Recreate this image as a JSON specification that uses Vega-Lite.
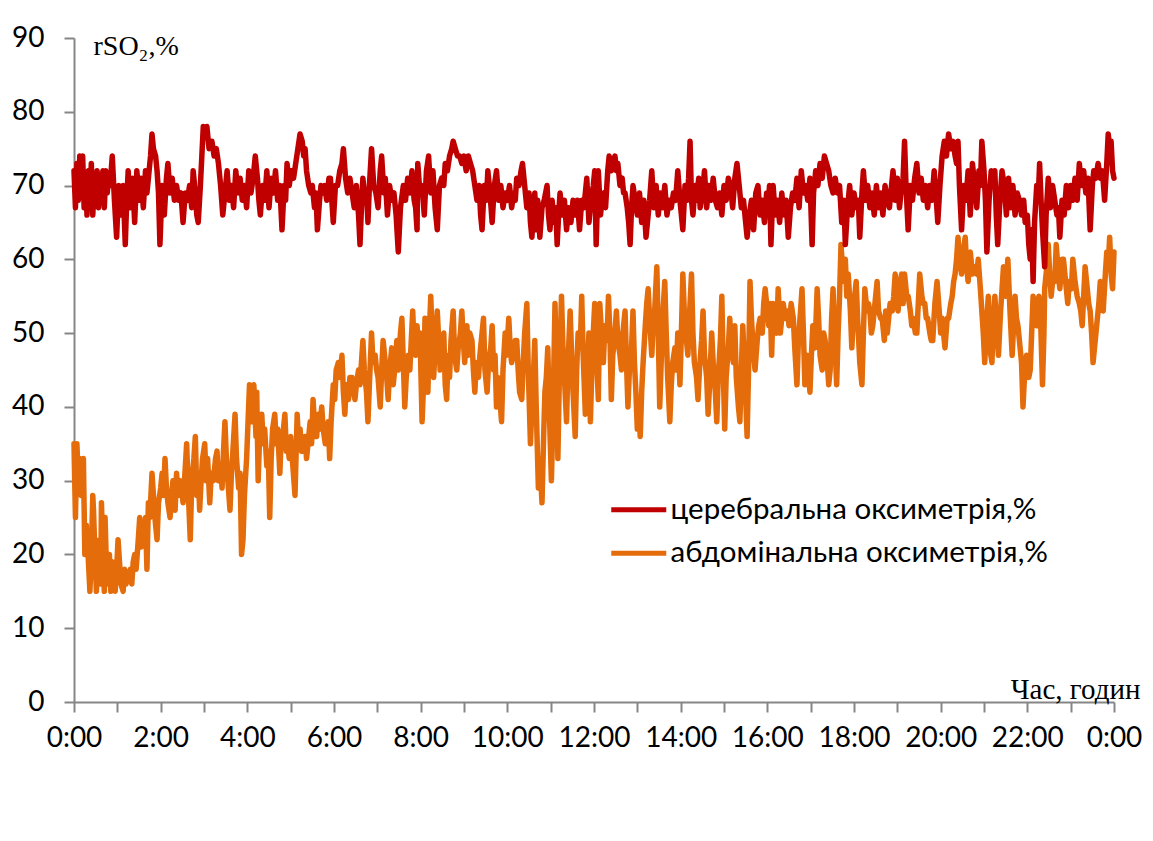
{
  "$schema": "https://vega.github.io/schema/vega-lite/v6.json",
  "width": 1040,
  "height": 664,
  "autosize": "none",
  "padding": {"left": 74, "top": 38, "right": 39, "bottom": 139},
  "background": "white",
  "config": {"view": {"stroke": null}, "font": "Lato"},
  "datasets": {
    "cer": [
{"t":0,"v":72},{"t":2,"v":67},{"t":4,"v":73},{"t":6,"v":68},{"t":8,"v":74},{"t":10,"v":69},{"t":12,"v":74},{"t":14,"v":67},{"t":16,"v":71},{"t":18,"v":66},{"t":20,"v":72},{"t":22,"v":68},{"t":24,"v":73},{"t":26,"v":66},{"t":28,"v":70},{"t":30,"v":68},{"t":32,"v":72},{"t":34,"v":67},{"t":36,"v":71},{"t":38,"v":69},{"t":40,"v":72},{"t":42,"v":67},{"t":44,"v":72},{"t":46,"v":69},{"t":48,"v":71},{"t":50,"v":70},{"t":53,"v":74},{"t":56,"v":68},{"t":59,"v":63},{"t":62,"v":70},{"t":65,"v":66},{"t":68,"v":70},{"t":71,"v":62},{"t":73,"v":68},{"t":75,"v":72},{"t":78,"v":67},{"t":81,"v":71},{"t":84,"v":65},{"t":87,"v":72},{"t":90,"v":68},{"t":93,"v":71},{"t":96,"v":67},{"t":99,"v":72},{"t":101,"v":69},{"t":104,"v":72},{"t":106,"v":74},{"t":108,"v":77},{"t":110,"v":75},{"t":113,"v":74},{"t":115,"v":72},{"t":117,"v":69},{"t":119,"v":62},{"t":122,"v":70},{"t":125,"v":66},{"t":128,"v":71},{"t":130,"v":73},{"t":133,"v":69},{"t":136,"v":71},{"t":139,"v":68},{"t":142,"v":70},{"t":145,"v":68},{"t":148,"v":69},{"t":151,"v":65},{"t":154,"v":69},{"t":157,"v":68},{"t":160,"v":70},{"t":163,"v":67},{"t":165,"v":72},{"t":168,"v":69},{"t":170,"v":66},{"t":172,"v":65},{"t":175,"v":70},{"t":177,"v":74},{"t":179,"v":78},{"t":182,"v":77},{"t":184,"v":78},{"t":187,"v":75},{"t":189,"v":76},{"t":191,"v":76},{"t":194,"v":74},{"t":197,"v":75},{"t":200,"v":73},{"t":203,"v":70},{"t":206,"v":66},{"t":209,"v":69},{"t":212,"v":72},{"t":215,"v":68},{"t":218,"v":70},{"t":221,"v":67},{"t":224,"v":72},{"t":227,"v":69},{"t":230,"v":71},{"t":233,"v":68},{"t":236,"v":70},{"t":239,"v":67},{"t":242,"v":72},{"t":245,"v":69},{"t":248,"v":71},{"t":251,"v":74},{"t":254,"v":71},{"t":256,"v":68},{"t":258,"v":66},{"t":261,"v":70},{"t":264,"v":68},{"t":267,"v":72},{"t":270,"v":67},{"t":273,"v":71},{"t":276,"v":69},{"t":279,"v":72},{"t":282,"v":68},{"t":285,"v":70},{"t":288,"v":64},{"t":291,"v":70},{"t":293,"v":68},{"t":295,"v":73},{"t":298,"v":70},{"t":301,"v":72},{"t":304,"v":71},{"t":307,"v":73},{"t":310,"v":75},{"t":313,"v":77},{"t":316,"v":76},{"t":318,"v":74},{"t":320,"v":75},{"t":322,"v":72},{"t":325,"v":70},{"t":328,"v":69},{"t":330,"v":70},{"t":333,"v":67},{"t":335,"v":69},{"t":337,"v":64},{"t":340,"v":68},{"t":342,"v":70},{"t":344,"v":69},{"t":347,"v":70},{"t":350,"v":68},{"t":353,"v":71},{"t":355,"v":71},{"t":357,"v":68},{"t":359,"v":65},{"t":362,"v":70},{"t":365,"v":70},{"t":368,"v":72},{"t":371,"v":73},{"t":373,"v":75},{"t":376,"v":71},{"t":379,"v":69},{"t":382,"v":71},{"t":385,"v":69},{"t":388,"v":67},{"t":391,"v":70},{"t":394,"v":66},{"t":396,"v":62},{"t":398,"v":67},{"t":400,"v":71},{"t":403,"v":68},{"t":405,"v":69},{"t":407,"v":65},{"t":409,"v":70},{"t":412,"v":75},{"t":415,"v":70},{"t":418,"v":69},{"t":421,"v":67},{"t":424,"v":72},{"t":426,"v":74},{"t":429,"v":69},{"t":431,"v":71},{"t":434,"v":66},{"t":437,"v":70},{"t":440,"v":68},{"t":443,"v":69},{"t":446,"v":66},{"t":449,"v":61},{"t":452,"v":67},{"t":456,"v":70},{"t":459,"v":68},{"t":462,"v":71},{"t":465,"v":69},{"t":468,"v":72},{"t":471,"v":68},{"t":473,"v":67},{"t":475,"v":64},{"t":476,"v":73},{"t":479,"v":69},{"t":482,"v":70},{"t":485,"v":66},{"t":488,"v":72},{"t":491,"v":74},{"t":494,"v":69},{"t":497,"v":72},{"t":500,"v":67},{"t":503,"v":64},{"t":506,"v":70},{"t":509,"v":71},{"t":512,"v":70},{"t":514,"v":73},{"t":517,"v":72},{"t":520,"v":74},{"t":523,"v":75},{"t":525,"v":76},{"t":528,"v":75},{"t":531,"v":74},{"t":534,"v":74},{"t":537,"v":73},{"t":540,"v":74},{"t":543,"v":72},{"t":546,"v":74},{"t":549,"v":73},{"t":552,"v":72},{"t":555,"v":70},{"t":558,"v":68},{"t":561,"v":70},{"t":563,"v":66},{"t":565,"v":64},{"t":568,"v":70},{"t":571,"v":68},{"t":573,"v":72},{"t":576,"v":69},{"t":579,"v":65},{"t":582,"v":70},{"t":585,"v":72},{"t":588,"v":68},{"t":591,"v":70},{"t":594,"v":67},{"t":597,"v":69},{"t":600,"v":68},{"t":603,"v":70},{"t":606,"v":67},{"t":609,"v":69},{"t":611,"v":68},{"t":613,"v":71},{"t":616,"v":70},{"t":619,"v":72},{"t":621,"v":73},{"t":624,"v":70},{"t":627,"v":67},{"t":630,"v":69},{"t":632,"v":65},{"t":634,"v":63},{"t":636,"v":66},{"t":638,"v":69},{"t":640,"v":64},{"t":642,"v":68},{"t":645,"v":63},{"t":648,"v":67},{"t":651,"v":68},{"t":655,"v":70},{"t":657,"v":66},{"t":659,"v":64},{"t":662,"v":68},{"t":665,"v":65},{"t":667,"v":67},{"t":669,"v":62},{"t":671,"v":66},{"t":673,"v":69},{"t":676,"v":66},{"t":679,"v":68},{"t":682,"v":64},{"t":685,"v":67},{"t":688,"v":65},{"t":691,"v":68},{"t":694,"v":66},{"t":697,"v":68},{"t":700,"v":64},{"t":703,"v":68},{"t":706,"v":67},{"t":710,"v":71},{"t":713,"v":65},{"t":716,"v":68},{"t":719,"v":70},{"t":721,"v":72},{"t":723,"v":62},{"t":726,"v":72},{"t":729,"v":66},{"t":731,"v":68},{"t":734,"v":69},{"t":736,"v":67},{"t":739,"v":72},{"t":741,"v":74},{"t":744,"v":72},{"t":746,"v":73},{"t":749,"v":74},{"t":751,"v":72},{"t":753,"v":73},{"t":756,"v":70},{"t":759,"v":71},{"t":761,"v":69},{"t":763,"v":69},{"t":766,"v":67},{"t":768,"v":65},{"t":770,"v":62},{"t":772,"v":67},{"t":774,"v":70},{"t":777,"v":68},{"t":780,"v":66},{"t":783,"v":69},{"t":786,"v":65},{"t":789,"v":68},{"t":792,"v":63},{"t":795,"v":66},{"t":797,"v":68},{"t":800,"v":72},{"t":803,"v":67},{"t":806,"v":70},{"t":809,"v":66},{"t":812,"v":69},{"t":815,"v":67},{"t":818,"v":70},{"t":821,"v":66},{"t":824,"v":68},{"t":827,"v":67},{"t":830,"v":69},{"t":833,"v":68},{"t":836,"v":72},{"t":839,"v":68},{"t":843,"v":64},{"t":846,"v":70},{"t":849,"v":68},{"t":851,"v":71},{"t":853,"v":76},{"t":855,"v":68},{"t":857,"v":66},{"t":860,"v":70},{"t":862,"v":68},{"t":865,"v":71},{"t":867,"v":67},{"t":870,"v":69},{"t":873,"v":72},{"t":876,"v":67},{"t":879,"v":70},{"t":882,"v":68},{"t":885,"v":71},{"t":888,"v":68},{"t":891,"v":67},{"t":894,"v":69},{"t":897,"v":66},{"t":900,"v":70},{"t":903,"v":68},{"t":906,"v":71},{"t":909,"v":70},{"t":912,"v":67},{"t":915,"v":71},{"t":918,"v":73},{"t":921,"v":70},{"t":924,"v":67},{"t":927,"v":68},{"t":930,"v":65},{"t":932,"v":63},{"t":935,"v":66},{"t":938,"v":68},{"t":941,"v":64},{"t":944,"v":69},{"t":947,"v":70},{"t":950,"v":66},{"t":953,"v":68},{"t":956,"v":65},{"t":959,"v":69},{"t":961,"v":67},{"t":963,"v":70},{"t":965,"v":62},{"t":968,"v":70},{"t":971,"v":66},{"t":974,"v":68},{"t":977,"v":65},{"t":980,"v":69},{"t":983,"v":66},{"t":986,"v":68},{"t":989,"v":63},{"t":992,"v":67},{"t":995,"v":69},{"t":998,"v":68},{"t":1001,"v":71},{"t":1004,"v":67},{"t":1007,"v":72},{"t":1010,"v":69},{"t":1013,"v":70},{"t":1016,"v":68},{"t":1019,"v":71},{"t":1022,"v":62},{"t":1024,"v":69},{"t":1027,"v":72},{"t":1030,"v":70},{"t":1033,"v":73},{"t":1036,"v":71},{"t":1039,"v":74},{"t":1042,"v":73},{"t":1045,"v":72},{"t":1048,"v":70},{"t":1051,"v":69},{"t":1054,"v":71},{"t":1057,"v":69},{"t":1060,"v":70},{"t":1063,"v":65},{"t":1066,"v":68},{"t":1068,"v":62},{"t":1071,"v":67},{"t":1074,"v":70},{"t":1077,"v":66},{"t":1080,"v":69},{"t":1083,"v":67},{"t":1086,"v":68},{"t":1088,"v":63},{"t":1091,"v":69},{"t":1093,"v":72},{"t":1096,"v":68},{"t":1099,"v":70},{"t":1102,"v":67},{"t":1105,"v":69},{"t":1108,"v":66},{"t":1111,"v":70},{"t":1114,"v":67},{"t":1117,"v":69},{"t":1120,"v":66},{"t":1123,"v":70},{"t":1126,"v":68},{"t":1129,"v":67},{"t":1132,"v":70},{"t":1134,"v":72},{"t":1137,"v":68},{"t":1140,"v":71},{"t":1143,"v":67},{"t":1146,"v":70},{"t":1148,"v":71},{"t":1150,"v":76},{"t":1152,"v":70},{"t":1155,"v":64},{"t":1158,"v":70},{"t":1161,"v":68},{"t":1164,"v":71},{"t":1167,"v":73},{"t":1170,"v":69},{"t":1173,"v":71},{"t":1176,"v":68},{"t":1179,"v":70},{"t":1182,"v":67},{"t":1185,"v":70},{"t":1188,"v":68},{"t":1191,"v":72},{"t":1194,"v":68},{"t":1196,"v":65},{"t":1199,"v":70},{"t":1202,"v":74},{"t":1205,"v":76},{"t":1208,"v":74},{"t":1211,"v":77},{"t":1214,"v":75},{"t":1217,"v":76},{"t":1220,"v":74},{"t":1222,"v":73},{"t":1224,"v":76},{"t":1226,"v":70},{"t":1229,"v":64},{"t":1232,"v":70},{"t":1235,"v":68},{"t":1238,"v":72},{"t":1241,"v":66},{"t":1244,"v":73},{"t":1247,"v":70},{"t":1250,"v":67},{"t":1253,"v":72},{"t":1255,"v":70},{"t":1257,"v":76},{"t":1260,"v":72},{"t":1262,"v":68},{"t":1264,"v":61},{"t":1267,"v":68},{"t":1270,"v":72},{"t":1273,"v":70},{"t":1275,"v":72},{"t":1277,"v":66},{"t":1279,"v":62},{"t":1282,"v":68},{"t":1285,"v":72},{"t":1288,"v":70},{"t":1291,"v":66},{"t":1294,"v":71},{"t":1297,"v":67},{"t":1300,"v":70},{"t":1303,"v":66},{"t":1306,"v":69},{"t":1309,"v":68},{"t":1312,"v":66},{"t":1315,"v":68},{"t":1317,"v":65},{"t":1320,"v":66},{"t":1322,"v":62},{"t":1324,"v":60},{"t":1326,"v":64},{"t":1328,"v":57},{"t":1330,"v":65},{"t":1333,"v":70},{"t":1335,"v":68},{"t":1337,"v":73},{"t":1339,"v":68},{"t":1341,"v":64},{"t":1344,"v":59},{"t":1346,"v":66},{"t":1349,"v":71},{"t":1352,"v":67},{"t":1355,"v":70},{"t":1358,"v":68},{"t":1361,"v":66},{"t":1363,"v":67},{"t":1365,"v":63},{"t":1368,"v":68},{"t":1371,"v":66},{"t":1374,"v":70},{"t":1377,"v":67},{"t":1380,"v":70},{"t":1383,"v":68},{"t":1386,"v":71},{"t":1389,"v":68},{"t":1392,"v":73},{"t":1395,"v":70},{"t":1398,"v":72},{"t":1401,"v":69},{"t":1404,"v":71},{"t":1407,"v":64},{"t":1410,"v":70},{"t":1412,"v":72},{"t":1415,"v":71},{"t":1418,"v":73},{"t":1421,"v":71},{"t":1424,"v":72},{"t":1427,"v":68},{"t":1430,"v":73},{"t":1432,"v":77},{"t":1434,"v":75},{"t":1436,"v":76},{"t":1438,"v":72},{"t":1440,"v":71}
    ],
    "abd": [
{"t":0,"v":35},{"t":2,"v":25},{"t":4,"v":35},{"t":6,"v":30},{"t":8,"v":33},{"t":10,"v":28},{"t":13,"v":33},{"t":15,"v":20},{"t":17,"v":24},{"t":19,"v":21},{"t":21,"v":17},{"t":22,"v":15},{"t":24,"v":20},{"t":26,"v":28},{"t":27,"v":26},{"t":29,"v":20},{"t":31,"v":15},{"t":33,"v":19},{"t":35,"v":22},{"t":37,"v":16},{"t":38,"v":27},{"t":40,"v":20},{"t":42,"v":15},{"t":43,"v":25},{"t":45,"v":18},{"t":47,"v":16},{"t":49,"v":20},{"t":51,"v":15},{"t":53,"v":19},{"t":55,"v":17},{"t":57,"v":15},{"t":59,"v":18},{"t":61,"v":22},{"t":63,"v":19},{"t":65,"v":16},{"t":68,"v":15},{"t":70,"v":18},{"t":72,"v":16},{"t":75,"v":17},{"t":78,"v":18},{"t":80,"v":16},{"t":82,"v":19},{"t":84,"v":20},{"t":86,"v":18},{"t":89,"v":22},{"t":91,"v":25},{"t":93,"v":21},{"t":95,"v":24},{"t":97,"v":22},{"t":99,"v":25},{"t":101,"v":18},{"t":103,"v":27},{"t":105,"v":25},{"t":108,"v":31},{"t":110,"v":28},{"t":112,"v":25},{"t":115,"v":22},{"t":117,"v":27},{"t":120,"v":29},{"t":122,"v":31},{"t":124,"v":28},{"t":126,"v":33},{"t":128,"v":29},{"t":130,"v":27},{"t":133,"v":25},{"t":135,"v":28},{"t":137,"v":30},{"t":140,"v":26},{"t":142,"v":31},{"t":144,"v":28},{"t":147,"v":30},{"t":149,"v":29},{"t":151,"v":27},{"t":153,"v":30},{"t":156,"v":35},{"t":158,"v":29},{"t":161,"v":22},{"t":163,"v":30},{"t":166,"v":33},{"t":168,"v":36},{"t":170,"v":28},{"t":172,"v":31},{"t":174,"v":26},{"t":176,"v":30},{"t":178,"v":33},{"t":181,"v":35},{"t":183,"v":30},{"t":185,"v":33},{"t":188,"v":27},{"t":190,"v":31},{"t":193,"v":30},{"t":196,"v":33},{"t":198,"v":34},{"t":200,"v":30},{"t":203,"v":32},{"t":205,"v":29},{"t":207,"v":34},{"t":209,"v":38},{"t":211,"v":33},{"t":213,"v":30},{"t":216,"v":26},{"t":218,"v":31},{"t":220,"v":34},{"t":223,"v":39},{"t":225,"v":33},{"t":228,"v":29},{"t":230,"v":31},{"t":232,"v":20},{"t":234,"v":22},{"t":236,"v":28},{"t":239,"v":33},{"t":241,"v":38},{"t":243,"v":43},{"t":246,"v":38},{"t":249,"v":43},{"t":252,"v":36},{"t":253,"v":42},{"t":255,"v":30},{"t":257,"v":36},{"t":260,"v":39},{"t":262,"v":35},{"t":264,"v":37},{"t":267,"v":32},{"t":269,"v":34},{"t":271,"v":25},{"t":273,"v":33},{"t":275,"v":37},{"t":278,"v":39},{"t":280,"v":35},{"t":282,"v":37},{"t":285,"v":31},{"t":287,"v":36},{"t":290,"v":37},{"t":292,"v":39},{"t":294,"v":34},{"t":296,"v":35},{"t":298,"v":33},{"t":300,"v":36},{"t":303,"v":32},{"t":306,"v":28},{"t":309,"v":39},{"t":311,"v":35},{"t":313,"v":37},{"t":315,"v":34},{"t":317,"v":34},{"t":320,"v":36},{"t":322,"v":33},{"t":324,"v":35},{"t":327,"v":38},{"t":329,"v":35},{"t":331,"v":41},{"t":334,"v":36},{"t":336,"v":36},{"t":338,"v":39},{"t":340,"v":37},{"t":343,"v":40},{"t":345,"v":37},{"t":348,"v":35},{"t":350,"v":36},{"t":352,"v":38},{"t":354,"v":33},{"t":356,"v":38},{"t":359,"v":43},{"t":361,"v":41},{"t":363,"v":45},{"t":366,"v":46},{"t":368,"v":44},{"t":371,"v":47},{"t":373,"v":42},{"t":375,"v":39},{"t":377,"v":43},{"t":380,"v":41},{"t":382,"v":44},{"t":385,"v":44},{"t":387,"v":42},{"t":389,"v":41},{"t":391,"v":43},{"t":394,"v":45},{"t":396,"v":43},{"t":398,"v":46},{"t":400,"v":49},{"t":402,"v":45},{"t":405,"v":42},{"t":407,"v":38},{"t":409,"v":43},{"t":412,"v":50},{"t":414,"v":46},{"t":417,"v":47},{"t":419,"v":45},{"t":421,"v":44},{"t":424,"v":40},{"t":426,"v":45},{"t":428,"v":49},{"t":431,"v":46},{"t":433,"v":44},{"t":435,"v":41},{"t":437,"v":45},{"t":440,"v":48},{"t":442,"v":43},{"t":445,"v":46},{"t":447,"v":49},{"t":449,"v":45},{"t":452,"v":50},{"t":454,"v":52},{"t":456,"v":46},{"t":458,"v":40},{"t":460,"v":44},{"t":463,"v":47},{"t":465,"v":45},{"t":467,"v":49},{"t":469,"v":53},{"t":471,"v":48},{"t":473,"v":47},{"t":475,"v":51},{"t":477,"v":48},{"t":479,"v":50},{"t":482,"v":38},{"t":484,"v":43},{"t":486,"v":52},{"t":488,"v":46},{"t":490,"v":42},{"t":492,"v":50},{"t":494,"v":55},{"t":496,"v":49},{"t":498,"v":44},{"t":500,"v":48},{"t":503,"v":53},{"t":505,"v":49},{"t":507,"v":45},{"t":509,"v":46},{"t":512,"v":50},{"t":514,"v":43},{"t":516,"v":41},{"t":518,"v":47},{"t":520,"v":44},{"t":522,"v":49},{"t":525,"v":53},{"t":527,"v":47},{"t":530,"v":45},{"t":532,"v":48},{"t":535,"v":50},{"t":537,"v":53},{"t":539,"v":49},{"t":541,"v":46},{"t":544,"v":51},{"t":546,"v":47},{"t":548,"v":50},{"t":551,"v":49},{"t":553,"v":45},{"t":555,"v":42},{"t":557,"v":46},{"t":560,"v":44},{"t":562,"v":47},{"t":565,"v":50},{"t":567,"v":52},{"t":569,"v":45},{"t":572,"v":42},{"t":574,"v":46},{"t":577,"v":48},{"t":579,"v":51},{"t":581,"v":45},{"t":583,"v":47},{"t":585,"v":40},{"t":587,"v":44},{"t":589,"v":42},{"t":592,"v":38},{"t":594,"v":45},{"t":597,"v":50},{"t":599,"v":47},{"t":602,"v":52},{"t":604,"v":48},{"t":606,"v":46},{"t":608,"v":47},{"t":611,"v":49},{"t":613,"v":49},{"t":615,"v":45},{"t":617,"v":42},{"t":620,"v":41},{"t":622,"v":46},{"t":624,"v":50},{"t":627,"v":54},{"t":629,"v":45},{"t":632,"v":35},{"t":634,"v":40},{"t":636,"v":44},{"t":638,"v":49},{"t":640,"v":40},{"t":643,"v":29},{"t":645,"v":33},{"t":648,"v":27},{"t":650,"v":35},{"t":652,"v":42},{"t":654,"v":44},{"t":656,"v":48},{"t":658,"v":40},{"t":661,"v":30},{"t":663,"v":38},{"t":666,"v":54},{"t":668,"v":45},{"t":670,"v":33},{"t":672,"v":44},{"t":675,"v":55},{"t":677,"v":48},{"t":679,"v":44},{"t":682,"v":38},{"t":684,"v":46},{"t":687,"v":53},{"t":689,"v":47},{"t":691,"v":42},{"t":694,"v":36},{"t":696,"v":45},{"t":698,"v":50},{"t":701,"v":48},{"t":703,"v":55},{"t":705,"v":47},{"t":708,"v":39},{"t":710,"v":44},{"t":713,"v":50},{"t":715,"v":38},{"t":717,"v":45},{"t":719,"v":50},{"t":721,"v":54},{"t":723,"v":48},{"t":726,"v":41},{"t":728,"v":54},{"t":731,"v":49},{"t":733,"v":46},{"t":735,"v":51},{"t":738,"v":49},{"t":740,"v":55},{"t":742,"v":50},{"t":744,"v":41},{"t":746,"v":47},{"t":749,"v":50},{"t":751,"v":53},{"t":753,"v":49},{"t":756,"v":47},{"t":758,"v":45},{"t":760,"v":50},{"t":763,"v":53},{"t":765,"v":46},{"t":767,"v":40},{"t":769,"v":45},{"t":772,"v":48},{"t":774,"v":53},{"t":776,"v":46},{"t":778,"v":42},{"t":780,"v":37},{"t":782,"v":40},{"t":784,"v":36},{"t":786,"v":42},{"t":788,"v":46},{"t":791,"v":51},{"t":793,"v":54},{"t":795,"v":56},{"t":797,"v":52},{"t":800,"v":47},{"t":802,"v":51},{"t":804,"v":53},{"t":807,"v":59},{"t":809,"v":50},{"t":811,"v":40},{"t":813,"v":46},{"t":815,"v":52},{"t":818,"v":57},{"t":820,"v":50},{"t":822,"v":44},{"t":825,"v":38},{"t":827,"v":43},{"t":829,"v":46},{"t":832,"v":48},{"t":834,"v":45},{"t":836,"v":50},{"t":839,"v":43},{"t":841,"v":50},{"t":843,"v":58},{"t":845,"v":53},{"t":848,"v":49},{"t":850,"v":47},{"t":852,"v":52},{"t":855,"v":58},{"t":857,"v":50},{"t":859,"v":46},{"t":862,"v":44},{"t":864,"v":41},{"t":866,"v":45},{"t":869,"v":49},{"t":871,"v":53},{"t":873,"v":47},{"t":876,"v":44},{"t":878,"v":39},{"t":880,"v":43},{"t":883,"v":50},{"t":885,"v":46},{"t":888,"v":42},{"t":890,"v":38},{"t":892,"v":44},{"t":895,"v":49},{"t":897,"v":55},{"t":899,"v":45},{"t":901,"v":37},{"t":903,"v":44},{"t":906,"v":48},{"t":908,"v":52},{"t":910,"v":48},{"t":913,"v":46},{"t":915,"v":51},{"t":917,"v":44},{"t":920,"v":40},{"t":922,"v":38},{"t":924,"v":45},{"t":926,"v":51},{"t":929,"v":44},{"t":932,"v":36},{"t":934,"v":45},{"t":936,"v":57},{"t":938,"v":52},{"t":941,"v":47},{"t":943,"v":45},{"t":946,"v":49},{"t":948,"v":51},{"t":950,"v":52},{"t":953,"v":50},{"t":955,"v":54},{"t":957,"v":56},{"t":960,"v":53},{"t":962,"v":51},{"t":964,"v":54},{"t":966,"v":47},{"t":968,"v":54},{"t":971,"v":51},{"t":973,"v":50},{"t":975,"v":56},{"t":978,"v":50},{"t":980,"v":52},{"t":982,"v":54},{"t":985,"v":52},{"t":988,"v":53},{"t":990,"v":51},{"t":993,"v":54},{"t":996,"v":52},{"t":998,"v":48},{"t":1001,"v":43},{"t":1003,"v":49},{"t":1006,"v":53},{"t":1008,"v":56},{"t":1010,"v":50},{"t":1012,"v":43},{"t":1015,"v":47},{"t":1017,"v":45},{"t":1019,"v":42},{"t":1021,"v":47},{"t":1023,"v":51},{"t":1026,"v":48},{"t":1029,"v":56},{"t":1031,"v":52},{"t":1033,"v":47},{"t":1036,"v":45},{"t":1038,"v":50},{"t":1040,"v":49},{"t":1043,"v":46},{"t":1045,"v":43},{"t":1047,"v":45},{"t":1049,"v":52},{"t":1051,"v":56},{"t":1053,"v":50},{"t":1056,"v":43},{"t":1058,"v":50},{"t":1060,"v":55},{"t":1062,"v":62},{"t":1064,"v":59},{"t":1066,"v":57},{"t":1068,"v":60},{"t":1070,"v":55},{"t":1072,"v":58},{"t":1075,"v":53},{"t":1077,"v":48},{"t":1079,"v":52},{"t":1081,"v":55},{"t":1083,"v":57},{"t":1085,"v":52},{"t":1088,"v":46},{"t":1091,"v":43},{"t":1093,"v":50},{"t":1095,"v":56},{"t":1098,"v":53},{"t":1100,"v":54},{"t":1102,"v":53},{"t":1104,"v":50},{"t":1106,"v":51},{"t":1109,"v":54},{"t":1112,"v":57},{"t":1114,"v":53},{"t":1117,"v":52},{"t":1119,"v":52},{"t":1122,"v":49},{"t":1124,"v":53},{"t":1126,"v":50},{"t":1128,"v":52},{"t":1130,"v":54},{"t":1133,"v":53},{"t":1135,"v":55},{"t":1137,"v":58},{"t":1139,"v":55},{"t":1141,"v":53},{"t":1144,"v":57},{"t":1146,"v":58},{"t":1148,"v":54},{"t":1150,"v":58},{"t":1153,"v":55},{"t":1155,"v":55},{"t":1158,"v":53},{"t":1160,"v":51},{"t":1162,"v":52},{"t":1165,"v":50},{"t":1167,"v":50},{"t":1169,"v":54},{"t":1171,"v":58},{"t":1174,"v":55},{"t":1176,"v":54},{"t":1178,"v":54},{"t":1180,"v":52},{"t":1182,"v":52},{"t":1185,"v":50},{"t":1187,"v":49},{"t":1189,"v":49},{"t":1192,"v":54},{"t":1195,"v":57},{"t":1198,"v":53},{"t":1200,"v":50},{"t":1202,"v":52},{"t":1204,"v":50},{"t":1206,"v":48},{"t":1209,"v":52},{"t":1211,"v":52},{"t":1214,"v":54},{"t":1216,"v":55},{"t":1218,"v":57},{"t":1220,"v":58},{"t":1222,"v":60},{"t":1224,"v":63},{"t":1226,"v":60},{"t":1229,"v":58},{"t":1231,"v":61},{"t":1234,"v":63},{"t":1236,"v":59},{"t":1238,"v":57},{"t":1241,"v":61},{"t":1244,"v":58},{"t":1247,"v":59},{"t":1250,"v":58},{"t":1252,"v":60},{"t":1255,"v":56},{"t":1257,"v":53},{"t":1259,"v":50},{"t":1261,"v":46},{"t":1264,"v":52},{"t":1266,"v":55},{"t":1268,"v":48},{"t":1271,"v":46},{"t":1273,"v":52},{"t":1275,"v":55},{"t":1278,"v":50},{"t":1280,"v":47},{"t":1283,"v":53},{"t":1285,"v":56},{"t":1287,"v":59},{"t":1290,"v":55},{"t":1293,"v":60},{"t":1296,"v":53},{"t":1299,"v":47},{"t":1301,"v":51},{"t":1303,"v":55},{"t":1305,"v":52},{"t":1307,"v":51},{"t":1310,"v":48},{"t":1312,"v":46},{"t":1314,"v":40},{"t":1316,"v":44},{"t":1319,"v":47},{"t":1322,"v":44},{"t":1324,"v":45},{"t":1326,"v":50},{"t":1328,"v":55},{"t":1331,"v":52},{"t":1333,"v":51},{"t":1336,"v":55},{"t":1338,"v":53},{"t":1341,"v":43},{"t":1343,"v":50},{"t":1344,"v":56},{"t":1347,"v":59},{"t":1349,"v":62},{"t":1351,"v":58},{"t":1353,"v":55},{"t":1356,"v":58},{"t":1358,"v":57},{"t":1360,"v":62},{"t":1363,"v":58},{"t":1365,"v":56},{"t":1368,"v":60},{"t":1370,"v":60},{"t":1373,"v":57},{"t":1376,"v":54},{"t":1378,"v":57},{"t":1381,"v":56},{"t":1383,"v":60},{"t":1386,"v":57},{"t":1389,"v":55},{"t":1392,"v":54},{"t":1394,"v":53},{"t":1396,"v":51},{"t":1398,"v":55},{"t":1400,"v":59},{"t":1403,"v":56},{"t":1405,"v":54},{"t":1407,"v":53},{"t":1409,"v":50},{"t":1411,"v":46},{"t":1414,"v":49},{"t":1417,"v":52},{"t":1419,"v":54},{"t":1421,"v":57},{"t":1423,"v":55},{"t":1425,"v":53},{"t":1428,"v":58},{"t":1430,"v":61},{"t":1432,"v":59},{"t":1434,"v":63},{"t":1436,"v":58},{"t":1438,"v":56},{"t":1440,"v":61}
    ]
  },
  "encoding": {
    "x": {
      "field": "t", "type": "quantitative",
      "scale": {"domain": [0, 1440], "nice": false, "zero": false},
      "axis": {
        "values": [0,60,120,180,240,300,360,420,480,540,600,660,720,780,840,900,960,1020,1080,1140,1200,1260,1320,1380,1440],
        "labelExpr": "datum.value % 120 == 0 ? (floor(datum.value / 60) % 24) + ':00' : ''",
        "grid": false, "labelOverlap": false, "labelFlush": false, "labelBound": false,
        "domainColor": "#868686", "domainWidth": 2, "tickColor": "#868686", "tickWidth": 2, "tickSize": 10,
        "labelFont": "Lato, Noto Sans", "labelFontSize": 28, "labelColor": "#000000", "labelPadding": 12,
        "title": "Час, годин", "titleFont": "Liberation Serif", "titleFontSize": 29, "titleFontWeight": "normal", "titleColor": "#000000",
        "titleX": 1066, "titleY": -4, "titleAlign": "right", "titleBaseline": "alphabetic", "titleAnchor": "end"
      }
    },
    "y": {
      "field": "v", "type": "quantitative",
      "scale": {"domain": [0, 90], "nice": false},
      "axis": {
        "values": [0,10,20,30,40,50,60,70,80,90],
        "grid": false,
        "domainColor": "#868686", "domainWidth": 2, "tickColor": "#868686", "tickWidth": 2, "tickSize": 10,
        "labelFont": "Lato, Noto Sans", "labelFontSize": 28, "labelColor": "#000000", "labelPadding": 20,
        "title": "rSO₂,%", "titleFont": "Liberation Serif", "titleFontSize": 28, "titleFontWeight": "normal", "titleColor": "#000000",
        "titleAngle": 0, "titleX": 19, "titleY": 8, "titleAlign": "left", "titleBaseline": "middle"
      }
    }
  },
  "layer": [
    {
      "data": {"name": "abd"},
      "mark": {"type": "line", "strokeWidth": 5.5, "strokeJoin": "round", "strokeCap": "round"},
      "encoding": {
        "color": {
          "datum": "абдомінальна оксиметрія,%",
          "type": "nominal",
          "scale": {"domain": ["церебральна оксиметрія,%", "абдомінальна оксиметрія,%"], "range": ["#C00000", "#E46C0A"]},
          "legend": {
            "orient": "none", "legendX": 550, "legendY": 457, "title": null,
            "symbolType": "M-2.75,0H2.75", "symbolSize": 400, "symbolStrokeWidth": 5,
            "labelFont": "Lato, Noto Sans", "labelFontSize": 29.5, "labelColor": "#000000", "labelOffset": 17,
            "labelLimit": 0, "rowPadding": 12.5, "padding": 0
          }
        }
      }
    },
    {
      "data": {"name": "cer"},
      "mark": {"type": "line", "strokeWidth": 5.5, "strokeJoin": "round", "strokeCap": "round"},
      "encoding": {
        "color": {"datum": "церебральна оксиметрія,%", "type": "nominal"}
      }
    }
  ]
}
